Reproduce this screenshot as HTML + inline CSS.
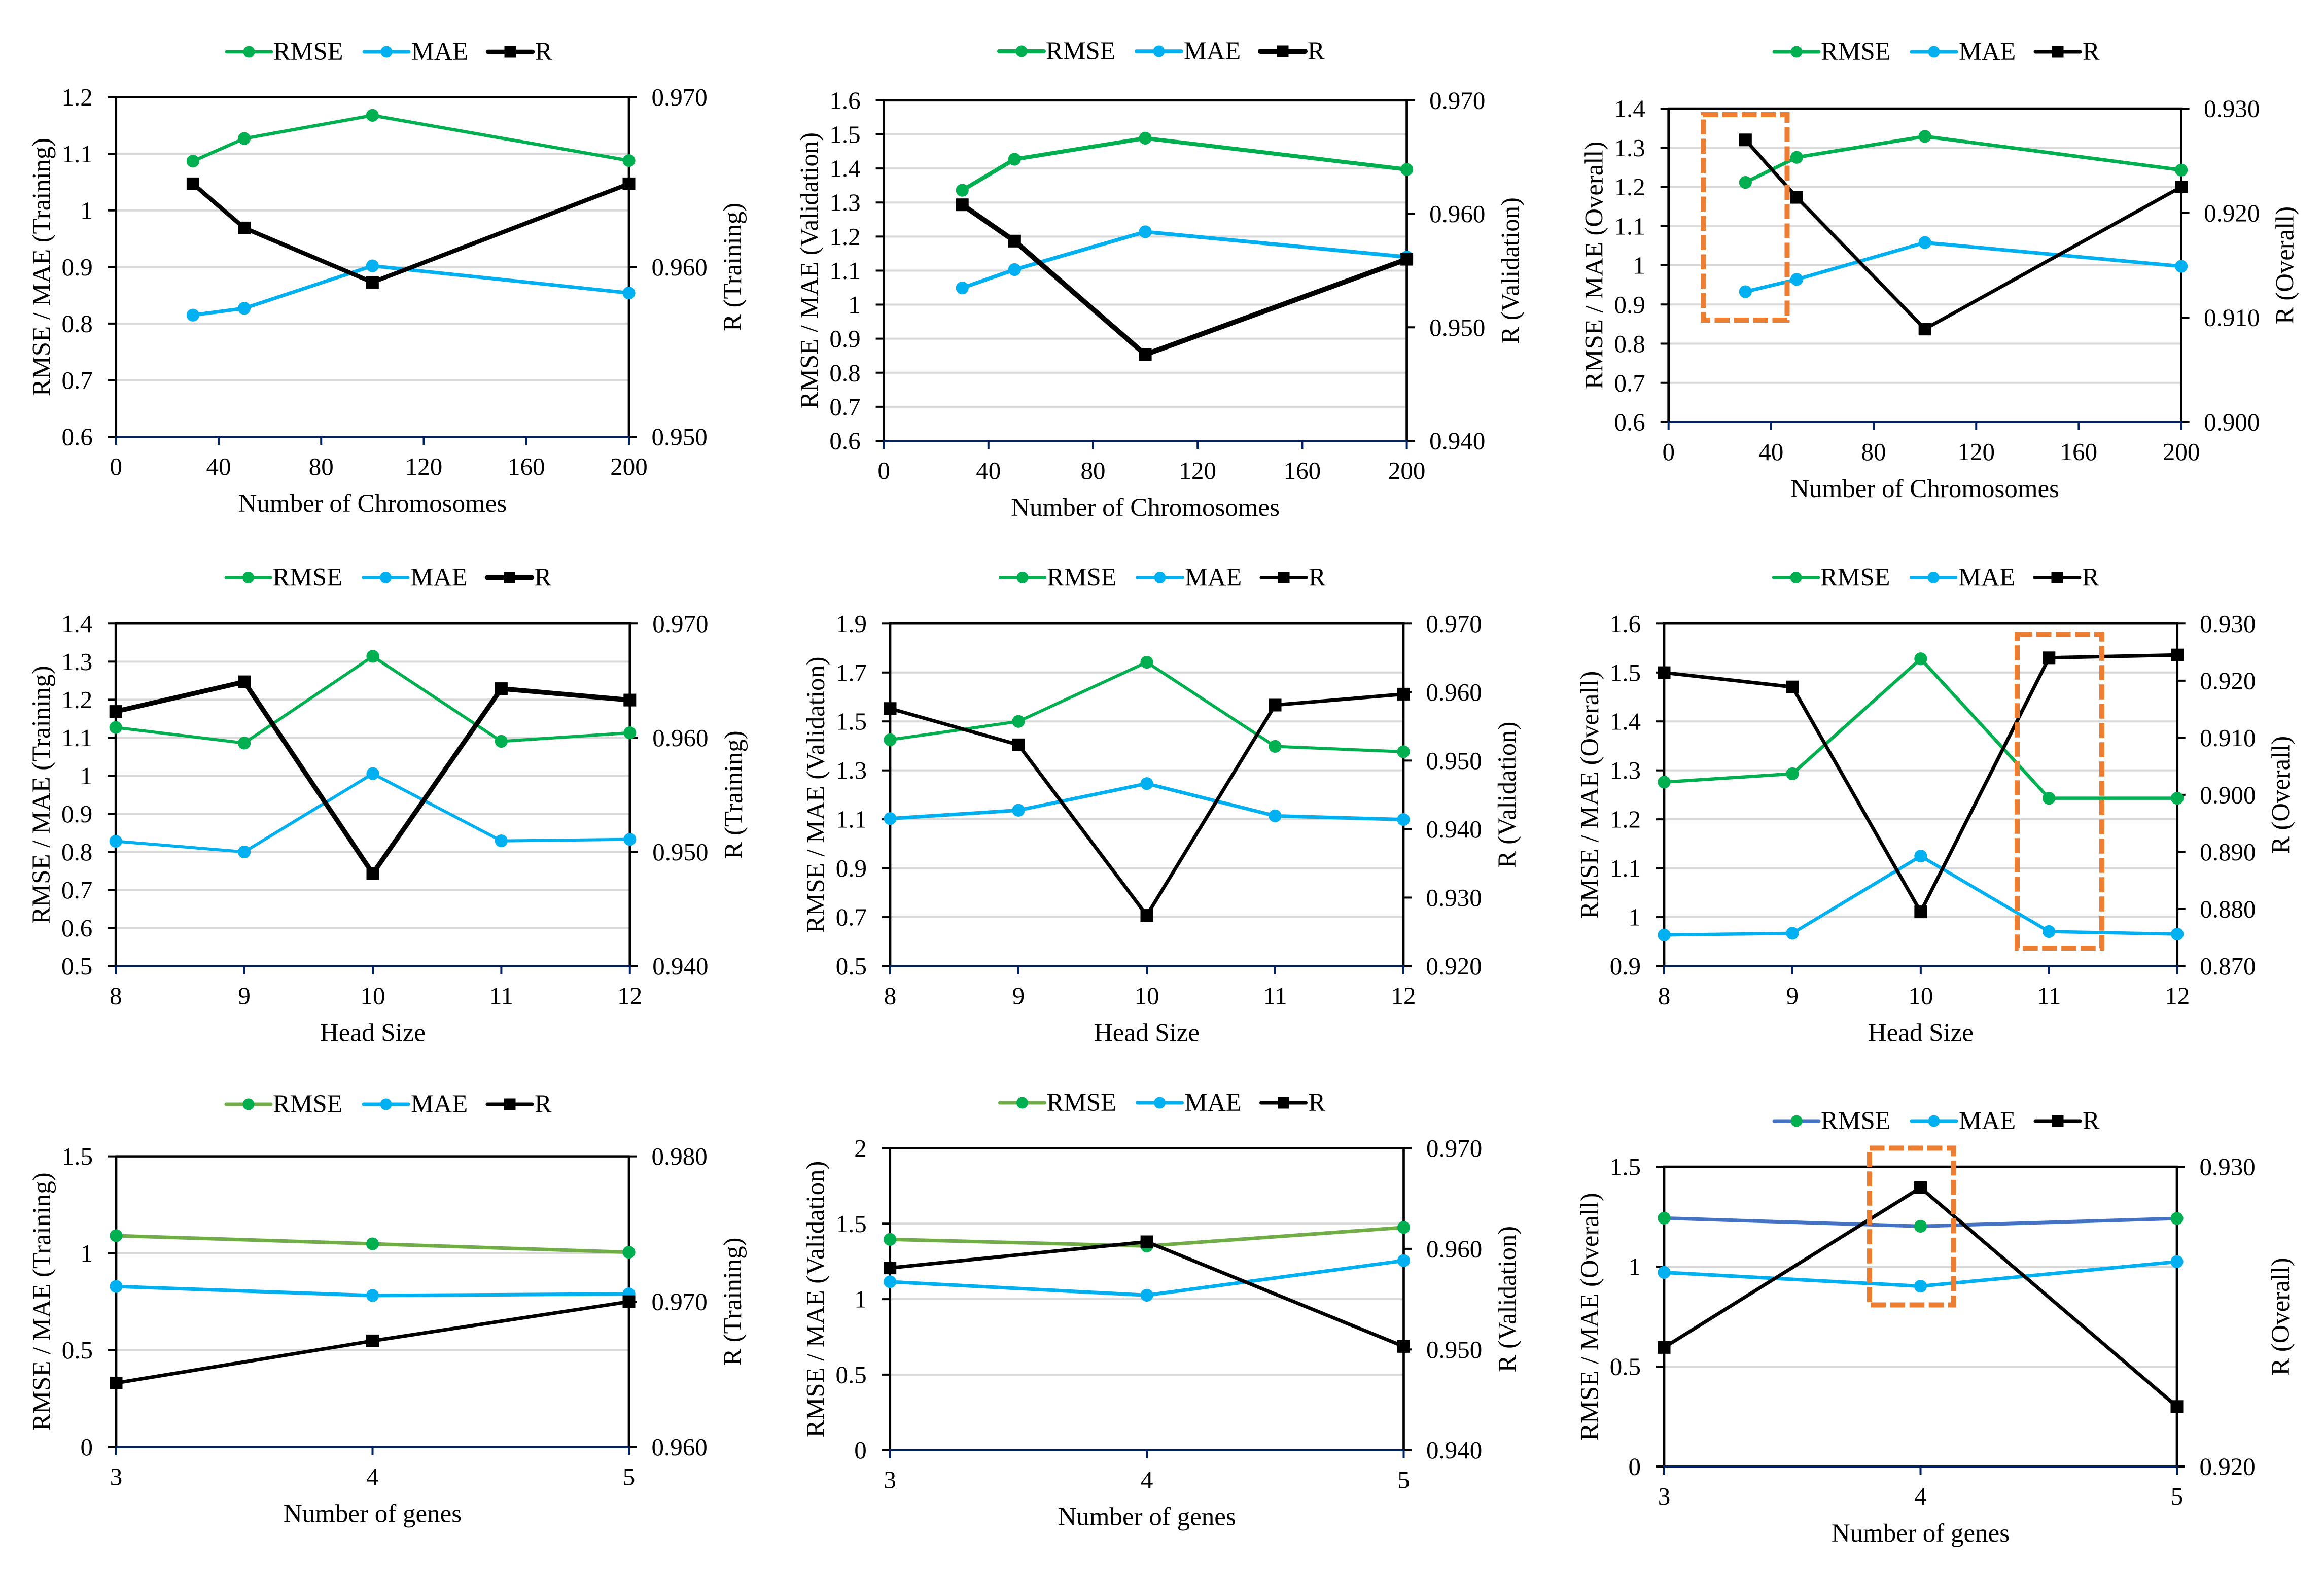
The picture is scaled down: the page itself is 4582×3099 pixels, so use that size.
<!DOCTYPE html>
<html lang="en">
<head>
<meta charset="utf-8">
<title>RMSE, MAE and R parameter study charts</title>
<style>
html,body{margin:0;padding:0;background:#fff;width:4582px;height:3099px;overflow:hidden}
svg{display:block}
text{font-family:"Liberation Serif",serif;fill:#000}
</style>
</head>
<body>
<svg id="figure" xmlns="http://www.w3.org/2000/svg" width="4582" height="3099" viewBox="0 0 4582 3099"></svg>
<script>
// ---------- shared category / tick data ----------
const chromosomeX = [30, 50, 100, 200];
const chromosomeTicks = [0, 40, 80, 120, 160, 200];
const headX = [8, 9, 10, 11, 12];
const headTicks = [8, 9, 10, 11, 12];
const geneX = [3, 4, 5];
const geneTicks = [3, 4, 5];

// ---------- row 1: number of chromosomes ----------
const chromTrainRmse = [1.087, 1.127, 1.168, 1.088];
const chromTrainMae = [0.815, 0.827, 0.902, 0.854];
const chromTrainR = [0.9649, 0.9623, 0.9591, 0.9649];
const chromTrainLeftTicks = [0.6, 0.7, 0.8, 0.9, 1, 1.1, 1.2];
const chromTrainRightTicks = ['0.950', '0.960', '0.970'];

const chromValRmse = [1.336, 1.427, 1.489, 1.397];
const chromValMae = [1.049, 1.103, 1.214, 1.14];
const chromValR = [0.9608, 0.9576, 0.9476, 0.956];
const chromValLeftTicks = [0.6, 0.7, 0.8, 0.9, 1, 1.1, 1.2, 1.3, 1.4, 1.5, 1.6];
const chromValRightTicks = ['0.940', '0.950', '0.960', '0.970'];

const chromAllRmse = [1.2115, 1.2755, 1.329, 1.243];
const chromAllMae = [0.9326, 0.964, 1.058, 0.9974];
const chromAllR = [0.927, 0.9215, 0.9089, 0.9225];
const chromAllLeftTicks = [0.6, 0.7, 0.8, 0.9, 1, 1.1, 1.2, 1.3, 1.4];
const chromAllRightTicks = ['0.900', '0.910', '0.920', '0.930'];

// ---------- row 2: head size ----------
const headTrainRmse = [1.127, 1.086, 1.314, 1.0905, 1.113];
const headTrainMae = [0.828, 0.8, 1.0056, 0.829, 0.833];
const headTrainR = [0.9623, 0.9649, 0.9481, 0.9643, 0.9633];
const headTrainLeftTicks = [0.5, 0.6, 0.7, 0.8, 0.9, 1, 1.1, 1.2, 1.3, 1.4];
const headTrainRightTicks = ['0.940', '0.950', '0.960', '0.970'];

const headValRmse = [1.425, 1.5, 1.742, 1.398, 1.376];
const headValMae = [1.103, 1.137, 1.246, 1.114, 1.099];
const headValR = [0.9576, 0.9523, 0.9274, 0.9581, 0.9597];
const headValLeftTicks = [0.5, 0.7, 0.9, 1.1, 1.3, 1.5, 1.7, 1.9];
const headValRightTicks = ['0.920', '0.930', '0.940', '0.950', '0.960', '0.970'];

const headAllRmse = [1.276, 1.293, 1.528, 1.243, 1.243];
const headAllMae = [0.9634, 0.967, 1.1248, 0.9705, 0.9653];
const headAllR = [0.9214, 0.9189, 0.8795, 0.924, 0.9245];
const headAllLeftTicks = [0.9, 1, 1.1, 1.2, 1.3, 1.4, 1.5, 1.6];
const headAllRightTicks = ['0.870', '0.880', '0.890', '0.900', '0.910', '0.920', '0.930'];

// ---------- row 3: number of genes ----------
const geneTrainRmse = [1.0906, 1.0485, 1.005];
const geneTrainMae = [0.8285, 0.7816, 0.79];
const geneTrainR = [0.9644, 0.9673, 0.97];
const geneTrainLeftTicks = [0, 0.5, 1, 1.5];
const geneTrainRightTicks = ['0.960', '0.970', '0.980'];

const geneValRmse = [1.396, 1.352, 1.475];
const geneValMae = [1.115, 1.026, 1.255];
const geneValR = [0.9581, 0.9607, 0.9503];
const geneValLeftTicks = [0, 0.5, 1, 1.5, 2];
const geneValRightTicks = ['0.940', '0.950', '0.960', '0.970'];

const geneAllRmse = [1.2427, 1.202, 1.241];
const geneAllMae = [0.971, 0.902, 1.0246];
const geneAllR = [0.92397, 0.9293, 0.922];
const geneAllLeftTicks = [0, 0.5, 1, 1.5];
const geneAllRightTicks = ['0.920', '0.930'];

// ---------- panel definitions (data references + placement) ----------
const GREEN = '#00b050', BLUE = '#00b0f0', BLACK = '#000000', OLIVE = '#70ad47', STEEL = '#4472c4';
const panels = [
  {id:'chromosomes-training', box:{l:228.7,r:1240,t:191.7,b:861}, lg:{x:447,y:102}, xs:chromosomeX, xTicks:chromosomeTicks, numeric:true, rmse:chromTrainRmse, mae:chromTrainMae, rr:chromTrainR, left:chromTrainLeftTicks, right:chromTrainRightTicks, xTitle:'Number of Chromosomes', yTitle:'RMSE / MAE (Training)', rTitle:'R (Training)', rmseColor:GREEN, w:[6.5,7,8.5]},
  {id:'chromosomes-validation', box:{l:1742.6,r:2773.6,t:197.9,b:869}, lg:{x:1970,y:101}, xs:chromosomeX, xTicks:chromosomeTicks, numeric:true, rmse:chromValRmse, mae:chromValMae, rr:chromValR, left:chromValLeftTicks, right:chromValRightTicks, xTitle:'Number of Chromosomes', yTitle:'RMSE / MAE (Validation)', rTitle:'R (Validation)', rmseColor:GREEN, w:[8,7.5,10]},
  {id:'chromosomes-overall', box:{l:3289.7,r:4300.6,t:214,b:832}, lg:{x:3498,y:102}, xs:chromosomeX, xTicks:chromosomeTicks, numeric:true, rmse:chromAllRmse, mae:chromAllMae, rr:chromAllR, left:chromAllLeftTicks, right:chromAllRightTicks, xTitle:'Number of Chromosomes', yTitle:'RMSE / MAE (Overall)', rTitle:'R (Overall)', rmseColor:GREEN, w:[7,7,7], hl:{l:3358,r:3523.5,t:226,b:631}},
  {id:'head-size-training', box:{l:228.2,r:1241.8,t:1229.3,b:1904.5}, lg:{x:445.5,y:1138.5}, xs:headX, xTicks:headTicks, numeric:false, rmse:headTrainRmse, mae:headTrainMae, rr:headTrainR, left:headTrainLeftTicks, right:headTrainRightTicks, xTitle:'Head Size', yTitle:'RMSE / MAE (Training)', rTitle:'R (Training)', rmseColor:GREEN, w:[6,6,9.5]},
  {id:'head-size-validation', box:{l:1755,r:2767,t:1229.3,b:1904.5}, lg:{x:1972,y:1138.5}, xs:headX, xTicks:headTicks, numeric:false, rmse:headValRmse, mae:headValMae, rr:headValR, left:headValLeftTicks, right:headValRightTicks, xTitle:'Head Size', yTitle:'RMSE / MAE (Validation)', rTitle:'R (Validation)', rmseColor:GREEN, w:[6,7,7]},
  {id:'head-size-overall', box:{l:3281,r:4292.7,t:1229.3,b:1904.5}, lg:{x:3497,y:1138.5}, xs:headX, xTicks:headTicks, numeric:false, rmse:headAllRmse, mae:headAllMae, rr:headAllR, left:headAllLeftTicks, right:headAllRightTicks, xTitle:'Head Size', yTitle:'RMSE / MAE (Overall)', rTitle:'R (Overall)', rmseColor:GREEN, w:[6.5,6.5,7], hl:{l:3977,r:4144,t:1250.3,b:1869}},
  {id:'genes-training', box:{l:229,r:1240,t:2279.6,b:2852.5}, lg:{x:446,y:2177}, xs:geneX, xTicks:geneTicks, numeric:false, rmse:geneTrainRmse, mae:geneTrainMae, rr:geneTrainR, left:geneTrainLeftTicks, right:geneTrainRightTicks, xTitle:'Number of genes', yTitle:'RMSE / MAE (Training)', rTitle:'R (Training)', rmseColor:OLIVE, w:[7,7,7]},
  {id:'genes-validation', box:{l:1754.7,r:2767.5,t:2263.5,b:2858.7}, lg:{x:1971.5,y:2174}, xs:geneX, xTicks:geneTicks, numeric:false, rmse:geneValRmse, mae:geneValMae, rr:geneValR, left:geneValLeftTicks, right:geneValRightTicks, xTitle:'Number of genes', yTitle:'RMSE / MAE (Validation)', rTitle:'R (Validation)', rmseColor:OLIVE, w:[7,7,7]},
  {id:'genes-overall', box:{l:3281,r:4292,t:2300,b:2891}, lg:{x:3498,y:2210}, xs:geneX, xTicks:geneTicks, numeric:false, rmse:geneAllRmse, mae:geneAllMae, rr:geneAllR, left:geneAllLeftTicks, right:geneAllRightTicks, xTitle:'Number of genes', yTitle:'RMSE / MAE (Overall)', rTitle:'R (Overall)', rmseColor:STEEL, w:[7,7,7], hl:{l:3686,r:3851.6,t:2263.5,b:2572.5}}
];

const NS = 'http://www.w3.org/2000/svg';
const AXIS = '#000000', NAVY = '#002060', GRID = '#d9d9d9';
const root = document.getElementById('figure');

function make(tag, attrs, parent, text) {
  const el = document.createElementNS(NS, tag);
  for (const k in attrs) el.setAttribute(k, attrs[k]);
  if (text !== undefined) el.textContent = text;
  parent.appendChild(el);
  return el;
}

function drawSeries(g, name, xs, vals, xf, yf, lineColor, markColor, width, square) {
  const pts = vals.map((v, i) => xf(xs[i]) + ',' + yf(v)).join(' ');
  const line = make('polyline', {points: pts, fill: 'none', stroke: lineColor, 'stroke-width': width, 'stroke-linejoin': 'round', 'stroke-linecap': 'round'}, g);
  
  
  vals.forEach((v, i) => {
    const cx = xf(xs[i]), cy = yf(v);
    const m = square
      ? make('rect', {x: cx - 12.5, y: cy - 12.5, width: 25, height: 25, fill: markColor}, g)
      : make('circle', {cx: cx, cy: cy, r: 12.6, fill: markColor}, g);
    
    
  });
}

function drawLegendEntry(g, name, label, x0, y, lineColor, markColor, width, square, textOffset) {
  const e = make('g', {}, g);
  
  
  const ln = make('line', {x1: x0, x2: x0 + 88, y1: y, y2: y, stroke: lineColor, 'stroke-width': width, 'stroke-linecap': 'round'}, e);
  
  
  const cx = x0 + 44;
  const mk = square
    ? make('rect', {x: cx - 11.5, y: y - 11.5, width: 23, height: 23, fill: markColor}, e)
    : make('circle', {cx: cx, cy: y, r: 11.5, fill: markColor}, e);
  
  
  const t = make('text', {x: x0 + textOffset, y: y + 16, 'font-size': 50.5}, e, label);
  
  
}

panels.forEach(p => {
  const b = p.box;
  const g = make('g', {}, root);
  
  

  const lMin = p.left[0], lMax = p.left[p.left.length - 1];
  const rNums = p.right.map(Number);
  const rMin = rNums[0], rMax = rNums[rNums.length - 1];
  const xMin = p.xTicks[0], xMax = p.xTicks[p.xTicks.length - 1];
  const xf = v => b.l + (v - xMin) / (xMax - xMin) * (b.r - b.l);
  const yL = v => b.b - (v - lMin) / (lMax - lMin) * (b.b - b.t);
  const yR = v => b.b - (v - rMin) / (rMax - rMin) * (b.b - b.t);

  // gridlines
  p.left.forEach(v => {
    if (v === lMin || v === lMax) return;
    const gl = make('line', {x1: b.l, x2: b.r, y1: yL(v), y2: yL(v), stroke: GRID, 'stroke-width': 4}, g);
    
    
  });

  // left axis ticks + labels
  p.left.forEach(v => {
    const tk = make('line', {x1: b.l - 16, x2: b.l, y1: yL(v), y2: yL(v), stroke: AXIS, 'stroke-width': 4}, g);
    
    
    const lb = make('text', {x: b.l - 46, y: yL(v) + 16.5, 'font-size': 49, 'text-anchor': 'end'}, g, String(v));
    
    
  });

  // right axis ticks + labels
  p.right.forEach(s => {
    const v = Number(s);
    const tk = make('line', {x1: b.r, x2: b.r + 16, y1: yR(v), y2: yR(v), stroke: AXIS, 'stroke-width': 4}, g);
    
    
    const lb = make('text', {x: b.r + 44.5, y: yR(v) + 16.5, 'font-size': 49}, g, s);
    
    
  });

  // axis frame
  const top = make('line', {x1: b.l - 2, x2: b.r + 2, y1: b.t, y2: b.t, stroke: AXIS, 'stroke-width': 4.5}, g);
  
  
  const la = make('line', {x1: b.l, x2: b.l, y1: b.t, y2: b.b, stroke: AXIS, 'stroke-width': 4.7}, g);
  
  
  const ra = make('line', {x1: b.r, x2: b.r, y1: b.t, y2: b.b, stroke: AXIS, 'stroke-width': 4.7}, g);
  
  
  const xa = make('line', {x1: b.l - 2, x2: b.r + 2, y1: b.b, y2: b.b, stroke: NAVY, 'stroke-width': 4}, g);
  
  

  // x ticks + labels
  p.xTicks.forEach(v => {
    const tk = make('line', {x1: xf(v), x2: xf(v), y1: b.b, y2: b.b + 16, stroke: NAVY, 'stroke-width': 4}, g);
    
    
    const lb = make('text', {x: xf(v), y: b.b + 75, 'font-size': 49, 'text-anchor': 'middle'}, g, String(v));
    
    
  });

  // titles
  const cy = (b.t + b.b) / 2, cx = (b.l + b.r) / 2;
  const xt = make('text', {x: cx, y: b.b + 148, 'font-size': 51, 'text-anchor': 'middle'}, g, p.xTitle);
  
  
  const yt = make('text', {transform: 'translate(' + (b.l - 130) + ' ' + cy + ') rotate(-90)', 'font-size': 50.7, 'text-anchor': 'middle'}, g, p.yTitle);
  
  
  const rt = make('text', {transform: 'translate(' + (b.r + 221) + ' ' + cy + ') rotate(-90)', 'font-size': 50.7, 'text-anchor': 'middle'}, g, p.rTitle);
  
  

  // series
  drawSeries(g, 'rmse', p.xs, p.rmse, xf, yL, p.rmseColor, GREEN, p.w[0], false);
  drawSeries(g, 'mae', p.xs, p.mae, xf, yL, BLUE, BLUE, p.w[1], false);
  drawSeries(g, 'r', p.xs, p.rr, xf, yR, BLACK, BLACK, p.w[2], true);

  // legend
  const lg = make('g', {}, g);
  
  
  drawLegendEntry(lg, 'rmse', 'RMSE', p.lg.x, p.lg.y, p.rmseColor, GREEN, p.w[0], false, 92);
  drawLegendEntry(lg, 'mae', 'MAE', p.lg.x + 271, p.lg.y, BLUE, BLUE, p.w[1], false, 93);
  drawLegendEntry(lg, 'r', 'R', p.lg.x + 515, p.lg.y, BLACK, BLACK, p.w[2], true, 93);

  // highlight box
  if (p.hl) {
    const h = make('rect', {x: p.hl.l, y: p.hl.t, width: p.hl.r - p.hl.l, height: p.hl.b - p.hl.t, fill: 'none', stroke: '#ed7d31', 'stroke-width': 10, 'stroke-dasharray': '29.5 8.5'}, g);
    
    
  }
});
</script>
</body>
</html>
